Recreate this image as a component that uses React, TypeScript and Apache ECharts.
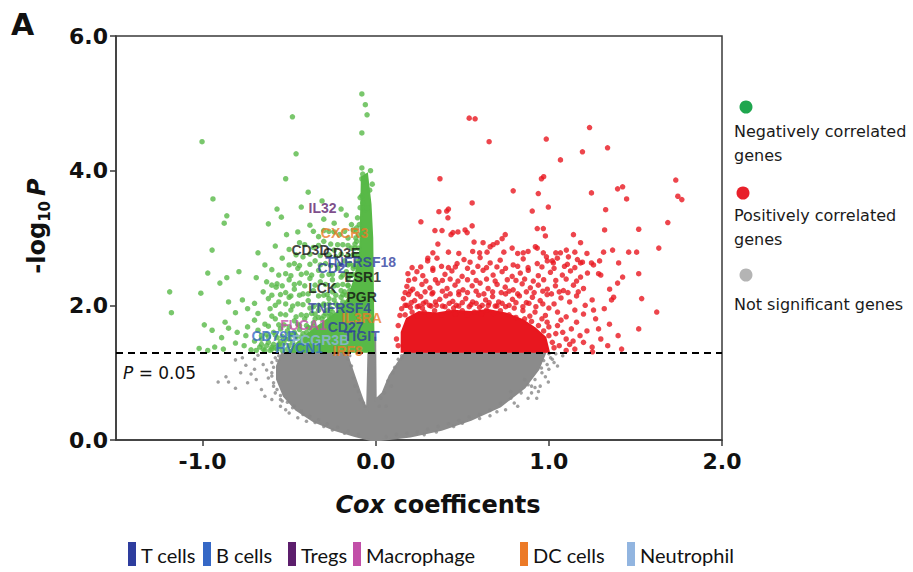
import React, { useEffect, useRef } from 'react';
import * as echarts from 'echarts';

// ---------- axis ----------
const X_TICKS = [-1, 0, 1, 2];
const P_THRESHOLD = 1.301; // -log10(0.05)

// ---------- legends ----------
const CELL_TYPES = ['T cells', 'B cells', 'Tregs', 'Macrophage', 'DC cells', 'Neutrophil'];
const SIG_GROUPS = ['Negatively correlated\ngenes', 'Positively correlated\ngenes', 'Not significant genes'];

// ---------- labelled genes ----------
const GENE_NAMES = ['IL32', 'CXCR3', 'CD3D', 'CD3E', 'TNFRSF18', 'CD2', 'ESR1', 'LCK', 'PGR', 'TNFRSF4', 'IL3RA', 'FUCA1', 'CD27', 'CD79B', 'FCGR3B', 'TIGIT', 'HVCN1', 'IRF8'];
const GENE_COX = [-0.307, -0.18, -0.377, -0.197, -0.087, -0.255, -0.075, -0.307, -0.081, -0.209, -0.081, -0.417, -0.174, -0.585, -0.319, -0.081, -0.441, -0.162];
const GENE_LOGP = [3.45, 3.08, 2.82, 2.77, 2.65, 2.56, 2.42, 2.26, 2.12, 1.96, 1.81, 1.71, 1.68, 1.55, 1.49, 1.55, 1.37, 1.32];
const GENE_TYPE = ['Tregs', 'DC cells', '', '', 'T cells', 'T cells', '', '', '', 'T cells', 'DC cells', 'Macrophage', 'T cells', 'B cells', 'Neutrophil', 'T cells', 'B cells', 'DC cells'];

// ---------- points ----------
const GREEN_POINTS = [
  [-1.003, 4.43], [-0.481, 4.8], [-0.46, 4.25], [-0.52, 3.88], [-0.39, 3.68], [-0.94, 3.58], [-0.57, 3.43], [-0.43, 3.46], [-0.2, 3.43], [-0.86, 3.33], [-0.875, 3.22], [-0.31, 3.55],
  [-0.08, 5.14], [-0.06, 4.98], [-0.05, 4.83], [-0.08, 4.56], [-0.08, 4.04], [-0.075, 3.95], [-0.08, 3.88], [-0.07, 3.83], [-0.035, 3.71], [-0.08, 3.63], [-0.075, 3.52], [-0.06, 3.42], [-0.05, 3.45], [-0.03, 4.0], [-0.02, 3.8],
  [-0.3, 3.28], [-0.24, 3.22], [-0.17, 3.34], [-0.14, 3.2], [-0.62, 3.21], [-0.545, 3.31],
  [-0.515, 3.05], [-0.45, 3.09], [-0.38, 3.19], [-0.33, 3.02], [-0.27, 3.1], [-0.21, 3.05], [-0.16, 3.0], [-0.13, 3.12],
  [-0.945, 2.82], [-0.68, 2.78], [-0.58, 2.88], [-0.5, 2.83], [-0.44, 2.93], [-0.36, 2.86], [-0.3, 2.95], [-0.24, 2.82], [-0.19, 2.9], [-0.14, 2.85],
  [-0.64, 2.6], [-0.54, 2.7], [-0.47, 2.62], [-0.42, 2.72], [-0.35, 2.66], [-0.29, 2.62], [-0.23, 2.72], [-0.18, 2.66],
  [-0.97, 2.48], [-0.79, 2.5], [-0.6, 2.53], [-0.52, 2.47], [-0.45, 2.55], [-0.4, 2.48], [-0.33, 2.52], [-0.27, 2.46], [-0.22, 2.55],
  [-0.86, 2.41], [-0.69, 2.41], [-0.63, 2.35], [-0.57, 2.32], [-0.5, 2.38], [-0.44, 2.33], [-0.38, 2.4], [-0.32, 2.35], [-0.25, 2.38],
  [-1.19, 2.2], [-1.01, 2.18], [-0.9, 2.33], [-0.575, 2.27], [-0.52, 2.19], [-0.47, 2.24], [-0.42, 2.17], [-0.36, 2.22], [-0.3, 2.15], [-0.65, 2.2],
  [-0.77, 2.08], [-0.7, 2.03], [-0.62, 2.1], [-0.56, 2.05], [-0.5, 2.12], [-0.45, 2.02], [-0.39, 2.07], [-0.33, 2.0], [-0.85, 2.05],
  [-1.18, 1.89], [-0.81, 1.89], [-0.74, 1.95], [-0.68, 1.88], [-0.61, 1.95], [-0.55, 1.87], [-0.49, 1.93], [-0.43, 1.86], [-0.38, 1.96],
  [-0.99, 1.71], [-0.74, 1.68], [-0.7, 1.78], [-0.64, 1.72], [-0.58, 1.8], [-0.53, 1.71], [-0.47, 1.77], [-0.87, 1.75],
  [-0.945, 1.63], [-0.89, 1.52], [-0.8, 1.6], [-0.75, 1.55], [-0.68, 1.63], [-0.63, 1.57], [-0.57, 1.52], [-0.85, 1.66],
  [-0.81, 1.44], [-0.93, 1.38], [-0.88, 1.35], [-0.76, 1.4], [-0.72, 1.34], [-0.7, 1.47], [-0.66, 1.42], [-0.97, 1.33], [-1.02, 1.36],
  [-0.64, 1.33], [-0.6, 1.38], [-0.55, 1.46], [-0.47, 1.6], [-0.4, 1.7], [-0.35, 1.8], [-0.28, 1.93], [-0.24, 2.08], [-0.2, 2.22], [-0.16, 2.4], [-0.12, 2.58], [-0.1, 2.75], [-0.11, 2.95],
  [-0.6, 1.35], [-0.56, 1.42], [-0.52, 1.5], [-0.48, 1.56], [-0.44, 1.64], [-0.4, 1.6], [-0.36, 1.74], [-0.33, 1.82], [-0.29, 1.88], [-0.26, 1.95], [-0.23, 2.02], [-0.2, 2.12],
  [-0.18, 2.2], [-0.16, 2.3], [-0.14, 2.45], [-0.13, 2.55], [-0.11, 2.65], [-0.1, 2.85], [-0.1, 3.05], [-0.095, 3.2], [-0.09, 3.45], [-0.09, 3.6],
  [-0.58, 1.37], [-0.54, 1.33], [-0.5, 1.4], [-0.46, 1.52], [-0.42, 1.58], [-0.38, 1.66], [-0.35, 1.62], [-0.31, 1.8], [-0.27, 1.84], [-0.25, 1.9], [-0.21, 1.98], [-0.19, 2.05],
  [-0.17, 2.15], [-0.15, 2.22], [-0.66, 1.5], [-0.62, 1.45], [-0.59, 1.6], [-0.55, 1.65], [-0.51, 1.62], [-0.45, 1.72], [-0.41, 1.8], [-0.37, 1.88], [-0.33, 1.93], [-0.3, 2.02],
  [-0.27, 2.1], [-0.25, 2.2], [-0.22, 2.3], [-0.2, 2.42], [-0.17, 2.5], [-0.15, 2.62], [-0.13, 2.75], [-0.12, 2.85], [-0.115, 3.0], [-0.11, 3.15], [-0.105, 3.3],
  [-0.69, 1.33], [-0.67, 1.38], [-0.65, 1.35], [-0.63, 1.4], [-0.61, 1.33], [-0.59, 1.42], [-0.57, 1.35], [-0.55, 1.39], [-0.53, 1.44], [-0.51, 1.35], [-0.5, 1.5], [-0.48, 1.45], [-0.47, 1.38],
  [-0.66, 1.55], [-0.62, 1.53], [-0.58, 1.56], [-0.54, 1.54], [-0.5, 1.57], [-0.46, 1.55], [-0.43, 1.53],
  [-0.62, 1.69], [-0.56, 1.71], [-0.5, 1.68], [-0.44, 1.7], [-0.39, 1.67], [-0.36, 1.69],
  [-0.6, 1.84], [-0.52, 1.86], [-0.46, 1.83], [-0.4, 1.85], [-0.35, 1.87], [-0.3, 1.84], [-0.26, 1.86],
  [-0.58, 2.0], [-0.52, 2.02], [-0.48, 1.99], [-0.42, 2.01], [-0.36, 1.98], [-0.3, 2.0], [-0.27, 2.02], [-0.22, 1.99],
  [-0.6, 2.15], [-0.55, 2.16], [-0.49, 2.14], [-0.44, 2.15], [-0.39, 2.17], [-0.33, 2.14], [-0.28, 2.16], [-0.23, 2.15], [-0.19, 2.16],
  [-0.6, 2.3], [-0.54, 2.29], [-0.47, 2.31], [-0.41, 2.29], [-0.35, 2.3], [-0.29, 2.31], [-0.24, 2.29], [-0.19, 2.31], [-0.16, 2.29],
  [-0.56, 2.45], [-0.49, 2.44], [-0.43, 2.46], [-0.37, 2.45], [-0.31, 2.44], [-0.25, 2.46], [-0.19, 2.45], [-0.15, 2.44], [-0.13, 2.46],
  [-0.5, 2.6], [-0.44, 2.59], [-0.38, 2.61], [-0.32, 2.6], [-0.26, 2.59], [-0.21, 2.61], [-0.16, 2.6], [-0.13, 2.59],
  [-0.46, 2.75], [-0.38, 2.76], [-0.32, 2.74], [-0.27, 2.75], [-0.2, 2.76], [-0.16, 2.74], [-0.12, 2.75],
  [-0.41, 2.9], [-0.33, 2.89], [-0.26, 2.91], [-0.22, 2.9], [-0.16, 2.89], [-0.12, 2.91],
  [-0.36, 3.1], [-0.3, 3.11], [-0.24, 3.09], [-0.18, 3.1], [-0.12, 3.11]
];

const RED_POINTS = [
  [0.54, 4.78], [0.574, 4.77], [0.655, 4.43], [1.235, 4.64], [0.985, 4.47], [1.194, 4.28], [1.339, 4.34], [1.067, 4.16], [0.371, 3.88], [0.957, 3.88], [0.97, 3.91],
  [0.794, 3.7], [0.939, 3.66], [1.246, 3.67], [1.397, 3.73], [1.426, 3.76], [1.449, 3.58], [1.733, 3.86], [1.745, 3.62], [1.768, 3.57], [0.557, 3.52],
  [0.365, 3.39], [0.41, 3.4], [0.42, 3.43], [0.904, 3.4], [0.997, 3.46], [1.328, 3.42], [0.417, 3.3], [0.261, 3.24], [1.687, 3.23], [1.519, 3.13], [1.322, 3.12],
  [1.142, 3.05], [0.342, 3.11], [0.383, 3.11], [0.435, 3.05], [0.446, 3.08], [0.475, 3.09], [0.516, 3.12], [0.557, 3.18], [0.528, 3.08], [0.933, 3.14], [0.968, 3.14], [0.98, 3.03], [0.748, 3.05],
  [1.183, 2.93], [1.635, 2.85], [1.461, 2.79], [1.507, 2.79], [1.368, 2.82], [1.316, 2.79], [1.403, 2.63], [1.293, 2.66], [1.246, 2.63], [1.519, 2.47], [1.426, 2.42],
  [1.397, 2.33], [1.351, 2.24], [1.374, 2.12], [1.362, 2.08], [1.536, 2.1], [1.287, 2.47], [1.3, 2.45], [1.623, 1.9], [1.519, 1.65], [1.287, 1.65], [1.258, 1.93], [1.252, 1.31],
  [0.359, 2.91], [0.301, 2.7], [0.568, 2.94], [0.62, 2.93], [0.643, 2.79], [0.661, 2.87], [0.678, 2.9], [0.701, 2.93], [0.73, 2.99], [0.922, 2.87], [0.933, 2.85], [0.968, 2.78],
  [0.986, 2.72], [0.788, 2.85], [0.852, 2.78], [1.067, 2.78], [1.101, 2.82], [1.113, 2.72], [1.02, 2.66], [1.026, 2.63], [1.183, 2.63], [1.194, 2.64],
  [0.3, 2.66], [0.354, 2.7], [0.47, 2.62], [0.51, 2.68], [0.545, 2.64], [0.603, 2.71], [0.661, 2.63], [0.719, 2.67], [0.794, 2.6], [0.852, 2.69], [0.933, 2.62], [0.991, 2.66], [1.049, 2.7], [1.107, 2.61], [1.165, 2.68], [1.258, 2.6],
  [0.186, 2.47], [0.238, 2.5], [0.272, 2.44], [0.33, 2.52], [0.4, 2.46], [0.44, 2.51], [0.499, 2.43], [0.562, 2.49], [0.62, 2.52], [0.678, 2.45], [0.73, 2.5], [0.788, 2.43], [0.835, 2.48], [0.881, 2.52], [0.939, 2.44], [1.009, 2.49], [1.078, 2.45], [1.125, 2.51], [1.183, 2.42], [1.223, 2.48],
  [0.18, 2.28], [0.214, 2.24], [0.267, 2.31], [0.313, 2.26], [0.359, 2.33], [0.412, 2.25], [0.458, 2.3], [0.504, 2.23], [0.557, 2.29], [0.603, 2.33], [0.649, 2.25], [0.701, 2.31], [0.748, 2.27], [0.794, 2.23], [0.846, 2.32], [0.893, 2.26], [0.939, 2.3], [0.991, 2.24], [1.038, 2.29], [1.084, 2.22], [1.142, 2.3], [1.2, 2.25],
  [0.16, 2.1], [0.19, 2.16], [0.225, 2.07], [0.26, 2.13], [0.29, 2.05], [0.325, 2.17], [0.37, 2.09], [0.405, 2.14], [0.445, 2.06], [0.48, 2.16], [0.52, 2.1], [0.56, 2.05], [0.595, 2.15], [0.635, 2.08], [0.675, 2.13], [0.71, 2.05], [0.75, 2.17], [0.79, 2.09], [0.83, 2.14], [0.87, 2.04], [0.905, 2.12], [0.95, 2.07], [0.99, 2.16], [1.03, 2.02], [1.07, 2.11], [1.12, 2.05], [1.16, 2.14], [1.21, 2.0], [1.25, 2.08],
  [0.15, 1.95], [0.18, 2.0], [0.25, 1.99], [0.35, 2.0], [0.45, 1.96], [0.55, 2.01], [0.65, 2.0], [0.75, 1.98], [0.85, 1.92], [0.92, 1.9], [0.98, 1.85], [1.05, 1.9], [1.1, 1.83], [1.15, 1.93], [1.2, 1.87], [1.27, 1.8], [1.32, 1.95], [1.35, 1.72],
  [1.05, 1.7], [1.08, 1.6], [1.1, 1.5], [1.12, 1.42], [1.15, 1.35], [1.18, 1.55], [1.13, 1.65], [1.16, 1.75], [1.22, 1.62], [1.2, 1.45], [1.25, 1.38], [1.3, 1.5], [1.1, 1.33], [1.07, 1.78], [1.14, 1.47], [1.34, 1.4], [1.4, 1.55], [1.42, 1.35],
  [0.13, 1.4], [0.12, 1.5], [0.13, 1.7], [0.14, 1.85],
  [0.17, 1.86], [0.21, 1.9], [0.24, 1.84], [0.28, 1.9], [0.31, 1.85], [0.34, 1.92], [0.38, 1.86], [0.42, 1.91], [0.46, 1.87], [0.5, 1.92], [0.53, 1.86], [0.57, 1.9], [0.61, 1.87],
  [0.64, 1.93], [0.68, 1.88], [0.72, 1.92], [0.77, 1.86], [0.81, 1.82], [0.86, 1.8], [0.9, 1.76], [0.94, 1.7], [0.97, 1.62], [1.0, 1.55], [1.02, 1.45], [1.03, 1.37], [1.0, 1.68], [0.96, 1.8],
  [0.2, 1.97], [0.27, 1.96], [0.32, 1.99], [0.4, 1.98], [0.48, 1.99], [0.6, 1.97], [0.7, 1.99], [0.8, 1.96], [0.89, 1.84], [1.04, 1.58], [1.06, 1.4], [0.99, 1.75],
  [0.17, 2.0], [0.205, 2.04], [0.24, 1.98], [0.275, 2.03], [0.31, 2.0], [0.345, 2.05], [0.385, 1.99], [0.425, 2.03], [0.465, 2.0], [0.5, 2.04], [0.54, 1.98], [0.58, 2.03],
  [0.615, 2.0], [0.655, 2.04], [0.69, 1.99], [0.73, 2.03], [0.77, 2.0], [0.81, 2.04], [0.85, 1.98], [0.885, 2.03], [0.925, 1.98], [0.965, 2.02], [1.0, 1.96],
  [0.17, 2.19], [0.2, 2.21], [0.24, 2.17], [0.285, 2.2], [0.33, 2.19], [0.385, 2.21], [0.43, 2.17], [0.48, 2.2], [0.53, 2.19], [0.58, 2.21], [0.625, 2.17],
  [0.675, 2.2], [0.725, 2.19], [0.77, 2.21], [0.82, 2.17], [0.87, 2.2], [0.915, 2.19], [0.965, 2.21], [1.015, 2.17], [1.06, 2.2], [1.11, 2.19], [1.17, 2.2],
  [0.19, 2.37], [0.225, 2.39], [0.29, 2.36], [0.345, 2.38], [0.385, 2.37], [0.43, 2.39], [0.475, 2.36], [0.53, 2.38], [0.58, 2.37], [0.64, 2.39], [0.69, 2.36],
  [0.76, 2.38], [0.81, 2.37], [0.86, 2.39], [0.91, 2.36], [0.97, 2.38], [1.04, 2.37], [1.1, 2.39], [1.16, 2.36],
  [0.21, 2.56], [0.26, 2.57], [0.33, 2.55], [0.38, 2.58], [0.42, 2.56], [0.46, 2.57], [0.53, 2.55], [0.59, 2.58], [0.64, 2.56], [0.7, 2.57], [0.75, 2.55],
  [0.82, 2.58], [0.88, 2.56], [0.96, 2.57], [1.03, 2.55], [1.09, 2.58], [1.15, 2.56],
  [0.33, 2.78], [0.42, 2.79], [0.48, 2.77], [0.56, 2.8], [0.6, 2.78], [0.74, 2.79], [0.82, 2.77], [0.88, 2.8], [1.04, 2.78], [1.15, 2.79], [1.22, 2.77]
];

const GRAY_POINTS = [
  [-0.91, 0.86], [-0.865, 0.94], [-0.85, 0.86], [-0.81, 1.19], [-0.75, 1.11], [-0.74, 0.85], [-0.63, 1.04], [-0.62, 0.92], [-0.81, 0.77], [-0.7, 1.2], [-0.66, 0.75], [-0.68, 1.26],
  [-0.6, 0.6], [-0.58, 1.22], [-0.64, 0.65], [-0.72, 0.98], [-0.78, 1.0], [-0.6, 1.15], [-0.55, 0.5], [-0.5, 0.4], [-0.45, 0.33], [-0.4, 0.28], [-0.3, 0.2], [-0.25, 0.15], [-0.52, 0.45],
  [-0.59, 0.8], [-0.6, 1.0], [-0.58, 0.7], [-0.54, 0.58], [-0.48, 0.48], [-0.42, 0.38], [-0.35, 0.26], [-0.18, 0.1],
  [0.997, 0.86], [0.957, 1.07], [0.98, 0.94], [1.02, 1.2], [1.05, 1.1], [0.9, 0.7], [0.8, 0.55], [0.75, 0.45], [0.6, 0.32], [0.5, 0.25], [0.35, 0.12], [0.95, 0.8], [1.08, 1.25], [0.93, 0.62], [0.7, 0.42], [1.0, 1.28],
  [0.88, 0.62], [0.82, 0.5], [0.66, 0.36], [0.45, 0.2], [0.28, 0.08], [1.0, 1.05], [0.97, 1.18], [0.92, 0.78],
  [-0.14, 1.1], [-0.12, 0.8], [-0.09, 0.6], [0.09, 0.8], [0.1, 1.0], [0.13, 1.2], [0.06, 0.5], [0.05, 0.7], [-0.06, 0.5], [-0.15, 1.25], [0.15, 1.25],
  [-0.56, 1.25], [-0.57, 1.18], [-0.59, 1.08], [-0.6, 0.95], [-0.59, 0.85], [-0.57, 0.75], [-0.55, 0.66], [-0.51, 0.56], [-0.47, 0.5], [-0.43, 0.43], [-0.38, 0.35], [-0.33, 0.3],
  [-0.28, 0.24], [-0.22, 0.19], [-0.16, 0.13], [-0.1, 0.08], [0.06, 0.05], [0.12, 0.08], [0.18, 0.1], [0.24, 0.12], [0.3, 0.16], [0.36, 0.2], [0.42, 0.24], [0.48, 0.29],
  [0.54, 0.34], [0.6, 0.38], [0.66, 0.44], [0.72, 0.55], [0.78, 0.62], [0.84, 0.7], [0.88, 0.82], [0.92, 0.9], [0.96, 1.0], [0.99, 1.12], [1.01, 1.22], [1.04, 1.28], [0.86, 0.9], [0.78, 0.72],
  [-0.16, 1.2], [-0.13, 0.92], [-0.1, 0.72], [-0.07, 0.55], [0.02, 0.5], [0.03, 0.62], [0.07, 0.88], [0.11, 1.08], [0.15, 1.22],
  [-0.65, 1.12], [-0.69, 0.9], [-0.7, 1.05], [-0.77, 1.22], [-0.55, 0.6], [0.94, 0.72], [1.03, 1.15], [0.9, 0.8]
];

// dense cores of each group (outlines of the saturated regions)
const GRAY_CORE = [
  [-0.54, 1.3], [-0.17, 1.3], [-0.13, 1.0], [-0.09, 0.7], [-0.05, 0.42], [-0.04, 1.52], [-0.003, 1.52], [0.0, 0.6], [0.04, 0.7], [0.08, 0.95], [0.13, 1.15], [0.17, 1.3],
  [0.98, 1.3], [0.94, 1.05], [0.86, 0.78], [0.72, 0.5], [0.55, 0.3], [0.38, 0.15], [0.2, 0.05], [0.03, 0.0], [-0.03, 0.0], [-0.12, 0.06], [-0.24, 0.15], [-0.36, 0.28],
  [-0.46, 0.45], [-0.53, 0.65], [-0.57, 0.9], [-0.57, 1.1]
];
const GREEN_CORE = [
  [-0.5, 1.31], [-0.45, 1.45], [-0.38, 1.6], [-0.3, 1.75], [-0.22, 1.9], [-0.16, 2.1], [-0.12, 2.4], [-0.09, 2.8], [-0.085, 3.3], [-0.08, 3.9],
  [-0.05, 3.95], [-0.03, 3.5], [-0.02, 3.0], [-0.012, 1.31]
];
const RED_CORE = [
  [0.15, 1.31], [0.15, 1.6], [0.18, 1.8], [0.25, 1.9], [0.35, 1.88], [0.45, 1.92], [0.55, 1.9], [0.65, 1.93], [0.75, 1.88], [0.85, 1.78], [0.92, 1.66], [0.98, 1.52], [1.0, 1.31]
];

// ---------- styles ----------
const GREEN = '#58b947';
const RED = '#e8171f';
const GRAY = '#878787';
const TYPE_COLORS: Record<string, string> = {
  'T cells': '#2e3d9e',
  'B cells': '#3568c6',
  'Tregs': '#5c1e6c',
  'Macrophage': '#c24fa8',
  'DC cells': '#ec7a27',
  'Neutrophil': '#92b5e0',
  '': '#111111'
};
const SIG_COLORS = ['#1fa64e', '#e8202a', '#b4b4b4'];
const FONT = 'DejaVu Sans';

function coreSeries(points: number[][], color: string, z: number) {
  return {
    type: 'custom',
    coordinateSystem: 'cartesian2d',
    data: [[0, 0]],
    silent: true,
    z,
    renderItem: (_p: any, api: any) => ({
      type: 'polygon',
      shape: { points: points.map((pt) => api.coord(pt)) },
      style: { fill: color, stroke: color, lineWidth: 2 }
    })
  };
}

export default function App() {
  const ref = useRef<HTMLDivElement>(null);
  useEffect(() => {
    if (!ref.current) return;
    const chart = echarts.init(ref.current, undefined, { renderer: 'svg' });

    const legendX = [128, 203, 288, 353, 520, 627];
    const bottomLegend: any[] = [];
    CELL_TYPES.forEach((t, i) => {
      bottomLegend.push({ type: 'rect', shape: { x: legendX[i], y: 542, width: 8, height: 24 }, style: { fill: TYPE_COLORS[t] } });
      bottomLegend.push({ type: 'text', x: legendX[i] + 13, y: 555, style: { text: t, font: '20px Lato', fill: '#111', verticalAlign: 'middle' } });
    });

    const sigCircleY = [107, 193, 275];
    const sigCircleX = [746, 743, 746];
    const sigTextY = [143, 227, 304];
    const sideLegend: any[] = [];
    SIG_GROUPS.forEach((g, i) => {
      sideLegend.push({ type: 'circle', shape: { cx: sigCircleX[i], cy: sigCircleY[i], r: 6.5 }, style: { fill: SIG_COLORS[i] } });
      sideLegend.push({ type: 'text', x: 734, y: sigTextY[i], style: { text: g, font: `16px "${FONT}"`, fill: '#1a1a1a', verticalAlign: 'middle', lineHeight: 24 } });
    });

    const option: any = {
      animation: false,
      grid: { left: 116, right: 191, top: 36, bottom: 132, show: true, borderColor: '#3a3a3a', borderWidth: 1.5 },
      xAxis: {
        type: 'value', min: -1.5, max: 2,
        axisLine: { onZero: false, lineStyle: { color: '#3a3a3a', width: 1.5 } },
        axisTick: { show: true, customValues: X_TICKS, length: 6, lineStyle: { color: '#3a3a3a', width: 1.5 } },
        axisLabel: { customValues: X_TICKS, formatter: (v: number) => v.toFixed(1), fontFamily: FONT, fontWeight: 'bold', fontSize: 22, color: '#111', margin: 10 },
        splitLine: { show: false }
      },
      yAxis: {
        type: 'value', min: 0, max: 6, interval: 2,
        axisLine: { onZero: false, lineStyle: { color: '#3a3a3a', width: 1.5 } },
        axisTick: { show: true, length: 6, lineStyle: { color: '#3a3a3a', width: 1.5 } },
        axisLabel: { formatter: (v: number) => v.toFixed(1), fontFamily: FONT, fontWeight: 'bold', fontSize: 22, color: '#111', margin: 8 },
        splitLine: { show: false }
      },
      series: [
        coreSeries(GRAY_CORE, '#8b8b8b', 1),
        { type: 'scatter', data: GRAY_POINTS, symbolSize: 3.5, itemStyle: { color: GRAY }, silent: true, z: 2 },
        coreSeries(GREEN_CORE, GREEN, 3),
        coreSeries(RED_CORE, RED, 3),
        { type: 'scatter', data: GREEN_POINTS, symbolSize: 5.5, itemStyle: { color: GREEN }, silent: true, z: 4 },
        {
          type: 'scatter', data: RED_POINTS, symbolSize: 5.5, itemStyle: { color: RED }, silent: true, z: 4,
          markLine: {
            silent: true, symbol: 'none', label: { show: false },
            lineStyle: { color: '#000', width: 2, type: [7, 5] },
            data: [{ yAxis: P_THRESHOLD }]
          }
        },
        {
          type: 'scatter', z: 10, silent: true, symbolSize: 0, itemStyle: { color: 'rgba(0,0,0,0)' },
          data: GENE_NAMES.map((n, i) => ({
            name: n, value: [GENE_COX[i], GENE_LOGP[i]],
            label: { color: TYPE_COLORS[GENE_TYPE[i]] }
          })),
          label: { show: true, position: 'inside', formatter: '{b}', fontFamily: 'Liberation Sans', fontWeight: 'bold', fontSize: 14 },
          labelLayout: { hideOverlap: false }
        }
      ],
      graphic: [
        { type: 'text', left: 11, top: 9, style: { text: 'A', font: `bold 30px "${FONT}"`, fill: '#111' } },
        {
          type: 'text', x: 37, y: 226, rotation: Math.PI / 2,
          style: {
            text: '{a|-log}{b|10}{c|P}', align: 'center', verticalAlign: 'middle', fill: '#111',
            rich: {
              a: { fontFamily: FONT, fontWeight: 'bold', fontSize: 24, lineHeight: 30 },
              b: { fontFamily: FONT, fontWeight: 'bold', fontSize: 15, lineHeight: 16, verticalAlign: 'bottom' },
              c: { fontFamily: FONT, fontWeight: 'bold', fontStyle: 'italic', fontSize: 24, lineHeight: 30, padding: [0, 0, 0, 5] }
            }
          }
        },
        {
          type: 'text', x: 438, y: 505,
          style: {
            text: '{i|Cox}{n| coefficents}', align: 'center', verticalAlign: 'middle', fill: '#111',
            rich: {
              i: { fontFamily: FONT, fontWeight: 'bold', fontStyle: 'italic', fontSize: 24 },
              n: { fontFamily: FONT, fontWeight: 'bold', fontSize: 24 }
            }
          }
        },
        {
          type: 'text', x: 123, y: 373,
          style: {
            text: '{i|P} = 0.05', align: 'left', verticalAlign: 'middle', fill: '#111', font: `17px "${FONT}"`,
            rich: { i: { fontFamily: FONT, fontStyle: 'italic', fontSize: 17 } }
          }
        },
        ...sideLegend,
        ...bottomLegend
      ]
    };
    chart.setOption(option);
    return () => chart.dispose();
  }, []);

  return <div ref={ref} style={{ position: 'fixed', left: 0, top: 0, width: 913, height: 572, background: '#fff' }} />;
}
